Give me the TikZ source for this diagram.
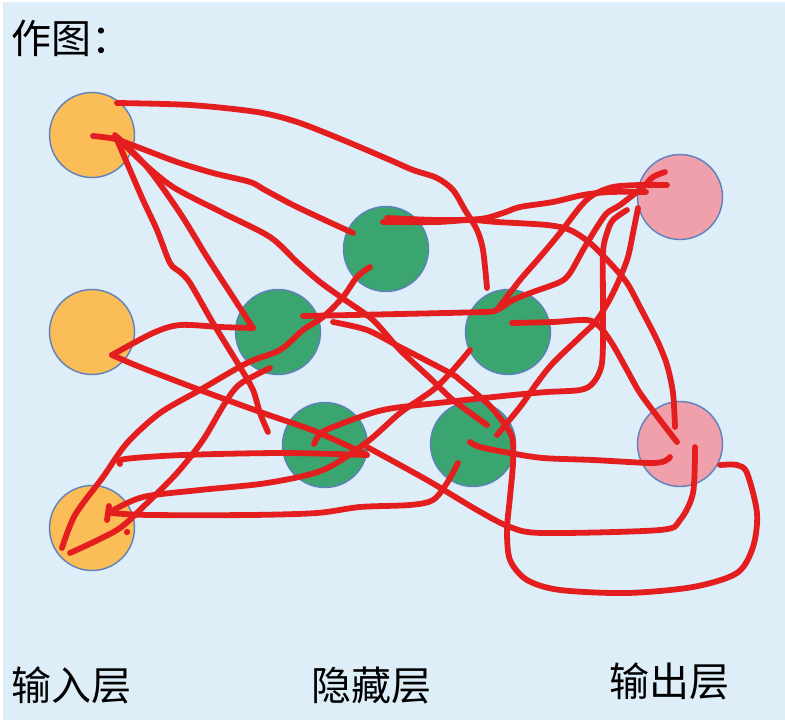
\documentclass[tikz,border=0pt]{standalone}
\usepackage{fontspec}
\newfontfamily\cjk{Noto Sans CJK SC}
\definecolor{paper}{HTML}{DDEEF8}
\definecolor{rim}{HTML}{5E7FBD}
\definecolor{inorange}{HTML}{FABD57}
\definecolor{hidgreen}{HTML}{3AA56F}
\definecolor{outpink}{HTML}{F0A0AB}
\definecolor{pen}{HTML}{E41E1E}
\begin{document}
\begin{tikzpicture}[
  x = 1pt, y = -1pt,
  unit/.style = {
    shape = circle,
    draw = rim,
    line width = 1.4pt,
    minimum size = 85pt,
    inner sep = 0pt,
    outer sep = 0pt,
  },
  label/.style = {
    font = \cjk\fontsize{40}{44}\selectfont,
    inner sep = 0pt,
  },
  stroke/.style = {
    draw = pen,
    line width = 5.8pt,
    line cap = round,
    line join = round,
  }
]
  \useasboundingbox (0, 0) rectangle (785, 720);
  \fill[white] (0, 0) rectangle (785, 720);
  \fill[paper] (3, 2) rectangle (785, 720);

  \node[unit, fill = inorange] (in1) at (92, 135) {};
  \node[unit, fill = inorange] (in2) at (92, 332) {};
  \node[unit, fill = inorange] (in3) at (92, 528) {};

  \node[unit, fill = hidgreen] (h1) at (386, 249) {};
  \node[unit, fill = hidgreen] (h2) at (278, 332) {};
  \node[unit, fill = hidgreen] (h3) at (508, 332) {};
  \node[unit, fill = hidgreen] (h4) at (325, 445) {};
  \node[unit, fill = hidgreen] (h5) at (473, 444) {};

  \node[unit, fill = outpink] (out1) at (680, 197) {};
  \node[unit, fill = outpink] (out2) at (680, 444) {};

  \node[label, anchor = west] (title) at (11, 38) {作图：};
  \node[label] (inlabel) at (72, 685) {输入层};
  \node[label] (hidlabel) at (371, 685) {隐藏层};
  \node[label] (outlabel) at (669, 681) {输出层};

  % strokes out of the first input
  \draw[stroke] plot[smooth] coordinates {(117,103) (190,105) (257,112) (297,122) (343,140) (390,160) (413,170) (437,178) (453,190) (465,210) (477,230) (483,250) (487,288)};
  \draw[stroke] plot[smooth] coordinates {(93,136) (115,139) (140,148) (177,162) (213,173) (250,182) (265,190) (297,207) (353,233)};
  \draw[stroke] plot[smooth] coordinates {(117,137) (140,160) (173,187) (223,213) (270,237) (297,262) (320,282) (345,300) (373,320) (400,350) (430,378) (453,400) (487,425)};
  \draw[stroke] plot[smooth] coordinates {(117,137) (147,167) (180,213) (207,257) (233,297) (253,328)};
  \draw[stroke] plot[smooth] coordinates {(253,328) (220,327) (180,325) (153,333) (112,355)};
  \draw[stroke] plot[smooth] coordinates {(112,355) (140,367) (200,390) (263,413) (317,432) (367,455)};
  \draw[stroke] plot[smooth] coordinates {(115,135) (130,170) (143,200) (157,230) (170,263) (180,272) (190,283) (213,323) (240,367) (253,390) (260,413) (268,432)};

  % strokes round the top output
  \draw[stroke] plot[smooth] coordinates {(383,222) (437,222) (470,220) (497,222) (547,225) (570,230) (590,243) (610,263) (627,283) (640,307) (657,340) (667,365) (673,393) (675,427)};
  \draw[stroke] plot[smooth] coordinates {(387,218) (437,220) (480,219) (503,213) (520,207) (553,202) (583,195) (610,192) (646,192)};
  \draw[stroke] plot[smooth] coordinates {(667,185) (640,185) (613,187) (593,195) (580,207) (560,233) (540,257) (520,280) (497,310)};
  \draw[stroke] plot[smooth] coordinates {(665,172) (653,177) (643,187) (620,205) (607,213) (597,227) (583,250) (570,273) (560,282) (533,292) (513,300) (497,310) (483,312) (400,314) (303,316)};
  \draw[stroke] plot[smooth] coordinates {(638,208) (633,233) (627,260) (613,293) (597,320) (580,337) (553,363) (537,383) (520,407) (497,435)};
  \draw[stroke] plot[smooth] coordinates {(627,210) (613,220) (607,233) (603,253) (603,313) (602,363) (593,383) (580,390) (547,392) (513,395) (447,402) (383,410) (333,427) (320,434) (314,444)};

  % strokes round the bottom output
  \draw[stroke] plot[smooth] coordinates {(512,323) (553,322) (587,320) (600,327) (613,345) (627,370) (640,393) (660,420) (677,442)};
  \draw[stroke] plot[smooth] coordinates {(470,442) (480,447) (510,453) (543,458) (593,460) (650,463) (665,461) (670,457)};
  \draw[stroke] plot[smooth] coordinates {(720,465) (737,465) (747,473) (757,513) (753,547) (737,573) (693,587) (627,593) (560,590) (527,580) (510,560) (507,530) (510,497) (513,463) (512,437) (500,418) (487,403) (460,380) (450,373) (400,347) (367,330) (333,322)};
  \draw[stroke] plot[smooth] coordinates {(367,447) (427,480) (477,510) (510,527) (543,533) (660,530) (680,520) (693,493) (695,447)};

  % strokes into the third input
  \draw[stroke] plot[smooth] coordinates {(458,463) (447,483) (433,500) (410,505) (360,507) (317,513) (250,515) (150,515) (110,513)};
  \draw[stroke] (109,506) -- (107,520);
  \draw[stroke] plot[smooth] coordinates {(370,267) (357,277) (343,297) (323,317) (303,330) (280,350) (247,363) (200,390) (160,413) (127,443) (103,477) (75,515) (62,548)};
  \draw[stroke] plot[smooth] coordinates {(270,368) (240,384) (225,403) (203,440) (177,473) (143,507) (117,530) (70,553)};
  \draw[stroke] plot[smooth] coordinates {(120,464) (125,459) (183,455) (283,453) (367,455)};
  \draw[stroke] plot[smooth] coordinates {(110,512) (143,497) (200,490) (267,483) (323,470) (367,442) (400,413) (433,390) (453,370) (470,350)};
  \fill[pen] (127,532) circle (3.2);
\end{tikzpicture}
\end{document}
